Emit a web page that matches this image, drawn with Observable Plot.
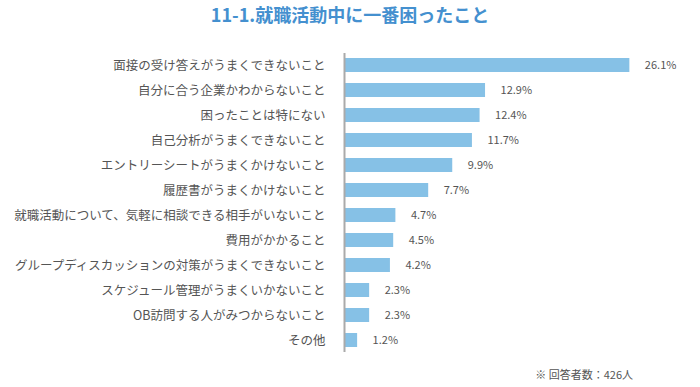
<!DOCTYPE html>
<html>
<head>
<meta charset="utf-8">
<script src="https://cdn.jsdelivr.net/npm/d3@7"></script>
<script src="https://cdn.jsdelivr.net/npm/@observablehq/plot@0.6"></script>
<style>
  body { margin: 0; background: #fff; font-family: "Noto Sans CJK JP", "Noto Sans", sans-serif; }
  #wrap { position: relative; width: 700px; height: 387px; overflow: hidden; }
  #title { position: absolute; left: 0; top: 2px; width: 700px; text-align: center; font-size: 18px; font-weight: bold; color: #4490cf; line-height: 24px; }
  #chart { position: absolute; left: 0; top: 31px; }
  #caption { position: absolute; right: 67px; top: 366px; font-size: 11px; color: #555; line-height: 16px; }
</style>
</head>
<body>
<div id="wrap">
  <div id="title">11-1.就職活動中に一番困ったこと</div>
  <div id="chart"></div>
  <div id="caption">※ 回答者数：426人</div>
</div>
<script>
const categories = [
  "面接の受け答えがうまくできないこと",
  "自分に合う企業かわからないこと",
  "困ったことは特にない",
  "自己分析がうまくできないこと",
  "エントリーシートがうまくかけないこと",
  "履歴書がうまくかけないこと",
  "就職活動について、気軽に相談できる相手がいないこと",
  "費用がかかること",
  "グループディスカッションの対策がうまくできないこと",
  "スケジュール管理がうまくいかないこと",
  "OB訪問する人がみつからないこと",
  "その他"
];
const values = [26.1, 12.9, 12.4, 11.7, 9.9, 7.7, 4.7, 4.5, 4.2, 2.3, 2.3, 1.2];
const data = categories.map((c, i) => ({category: c, value: values[i]}));

const chart = Plot.plot({
  width: 700,
  height: 356,
  marginLeft: 344,
  marginRight: 28,
  marginTop: 12,
  marginBottom: 25,
  style: {fontFamily: '"Noto Sans CJK JP", "Noto Sans", sans-serif', color: "#555", background: "transparent"},
  x: {domain: [0, 30], axis: null},
  y: {domain: categories, padding: 0.45, label: null, tickSize: 0, tickPadding: 19},
  marks: [
    Plot.barX(data, {x: "value", y: "category", fill: "#86c1e6"}),
    Plot.ruleX([0], {stroke: "#aaa", strokeWidth: 2, insetTop: 10, insetBottom: 10}),
    Plot.text(data, {x: "value", y: "category", text: d => d.value.toFixed(1) + "%", textAnchor: "start", dx: 15, fontSize: 11, fill: "#555"}),
    Plot.axisY({tickSize: 0, tickPadding: 19, fontSize: 12.5, label: null, fill: "#555"})
  ]
});
document.getElementById("chart").appendChild(chart);
</script>
</body>
</html>
